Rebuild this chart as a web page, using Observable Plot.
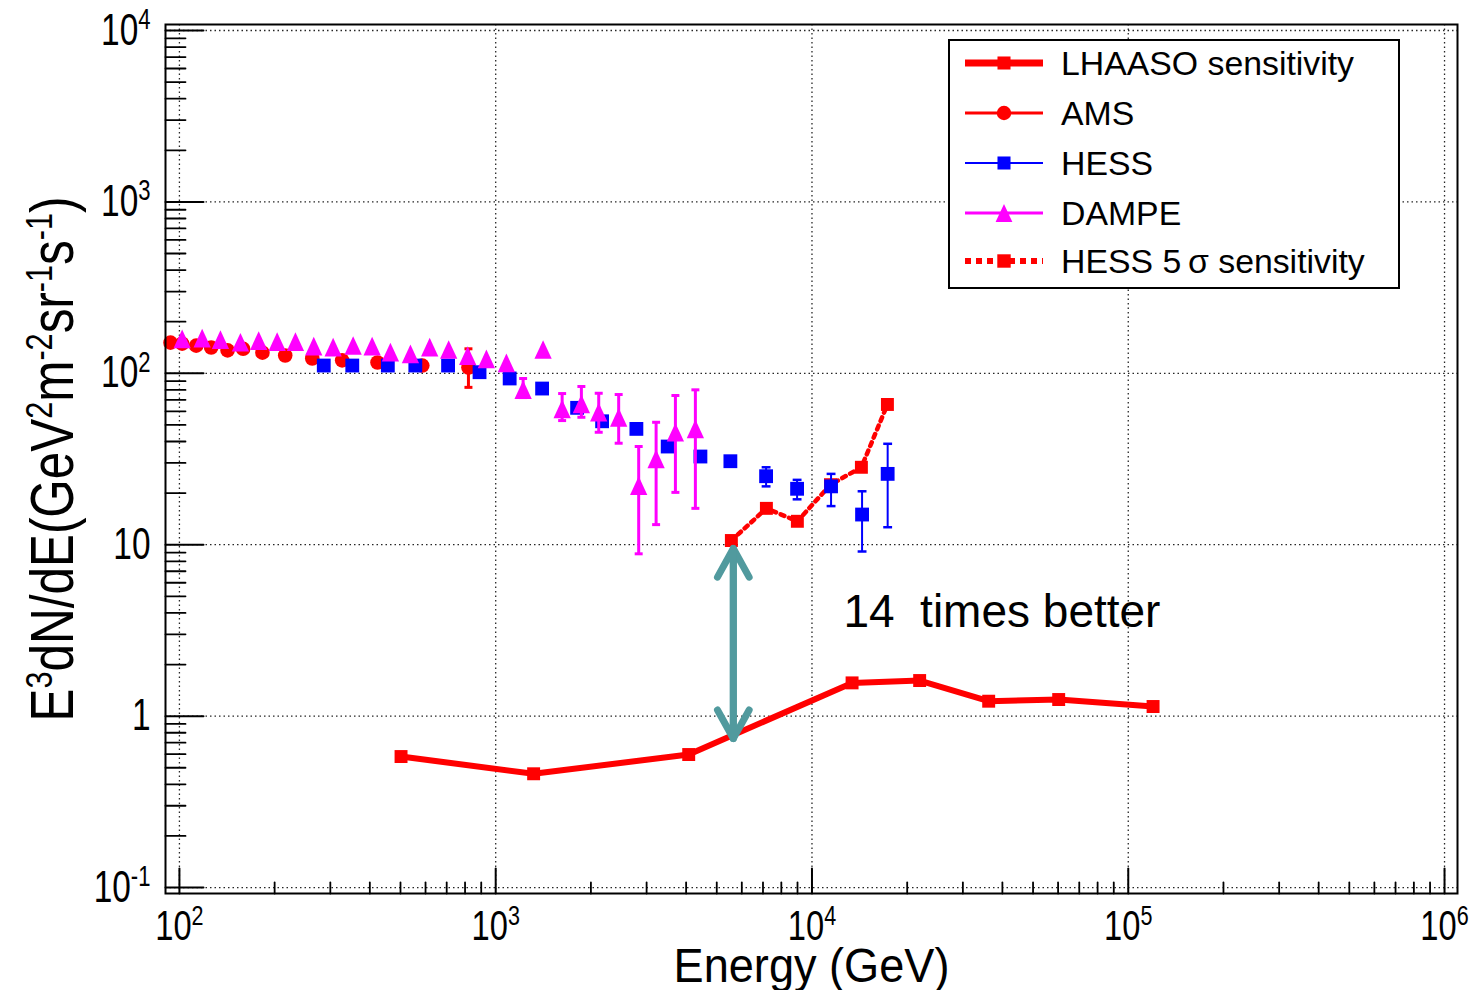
<!DOCTYPE html>
<html><head><meta charset="utf-8">
<script src="https://cdn.jsdelivr.net/npm/d3@7"></script>
<script src="https://cdn.jsdelivr.net/npm/@observablehq/plot@0.6"></script>
<style>
html,body{margin:0;padding:0;background:#fff;}
#chart svg{display:block;font-family:"Liberation Sans",Arial,sans-serif;}
#chart text{white-space:pre;}
</style></head><body><div id="chart"></div>
<script>
// ---- axes ----
const xMajor = [1e2, 1e3, 1e4, 1e5, 1e6];
const yMajor = [1e-1, 1, 10, 1e2, 1e3, 1e4];
const xDomain = [90.36, 1.099e6];
const yDomain = [0.0923, 10839];
const xTickLabels = ["10^{2}", "10^{3}", "10^{4}", "10^{5}", "10^{6}"];
const yTickLabels = ["10^{-1}", "1", "10", "10^{2}", "10^{3}", "10^{4}"];
const xTitle = "Energy (GeV)";
const yTitle = "E^{3}dN/dE(GeV^{2}m^{-2}sr^{-1}s^{-1})";

// ---- AMS ----
const amsE = [93.7, 102, 113, 126, 142, 159, 183, 216, 263, 327, 423, 586, 820];
const amsF = [151, 149, 145, 141.5, 136, 139, 132, 127, 122, 119, 115.6, 111, 108];
const amsErrE = [820];
const amsErrLo = [82.8];
const amsErrHi = [139];

// ---- HESS ----
const hessE = [286, 352, 456, 557, 707, 889, 1107, 1402, 1809, 2170, 2785, 3498, 4439, 5521, 7160, 8973, 11490, 14400, 17350];
const hessF = [111, 111, 111, 111, 111, 101.5, 93.3, 81.5, 62.9, 52.5, 47.4, 37.4, 32.7, 30.7, 25.1, 21.2, 21.9, 15.0, 25.9];
const hessErrE = [7160, 8973, 11490, 14400, 17350];
const hessErrLo = [21.9, 18.4, 16.8, 9.13, 12.65];
const hessErrHi = [28.3, 23.9, 25.9, 20.5, 38.8];

// ---- DAMPE ----
const dampeE = [102, 118, 134.8, 155.9, 178.1, 203.7, 232.7, 265.9, 306.2, 354.2, 406.7, 464.6, 537.5, 618.4, 710.1, 815.5, 934.5, 1081, 1221, 1412, 1622, 1866, 2117, 2448, 2832, 3215, 3700, 4279];
const dampeF = [158.9, 160.2, 157.4, 151.8, 155.3, 153.2, 153.2, 143.9, 142.0, 145.3, 143.9, 132.8, 130.0, 142.0, 137.7, 127.0, 121.5, 115.1, 80.4, 137.7, 62.1, 66.4, 59.3, 55.4, 22.1, 31.7, 45.3, 47.4];
const dampeErrE = [1221, 1622, 1866, 2117, 2448, 2832, 3215, 3700, 4279];
const dampeErrLo = [72.2, 53.0, 55.4, 45.3, 39.1, 8.85, 13.1, 20.2, 16.3];
const dampeErrHi = [93.3, 76.2, 83.8, 76.5, 75.2, 37.4, 51.8, 74.2, 80.1];

// ---- HESS 5 sigma sensitivity ----
const hess5E = [5561, 7176, 8991, 11440, 14330, 17320];
const hess5F = [10.58, 16.3, 13.7, 22.4, 28.3, 65.8];

// ---- LHAASO sensitivity ----
const lhaasoE = [502, 1318, 4076, 13390, 21900, 36200, 60260, 119800];
const lhaasoF = [0.581, 0.461, 0.597, 1.563, 1.613, 1.222, 1.250, 1.138];

// ---- annotation ----
const arrowE = [5640];
const arrowTop = [9.5];
const arrowBottom = [0.74];
const noteText = ["14  times better"];
const noteE = [12570];
const noteF = [4.02];

// ---- legend ----
const legendLabels = ["LHAASO sensitivity", "AMS", "HESS", "DAMPE", "HESS 5\u2009\u03c3 sensitivity"];

const zip = (xs, ys) => xs.map((x, i) => ({x, y: ys[i]}));
const zipErr = (xs, lo, hi) => xs.map((x, i) => ({x, lo: lo[i], hi: hi[i]}));

const ams = zip(amsE, amsF), hess = zip(hessE, hessF), dampe = zip(dampeE, dampeF);
const hess5 = zip(hess5E, hess5F), lhaaso = zip(lhaasoE, lhaasoF);
const amsErr = zipErr(amsErrE, amsErrLo, amsErrHi);
const hessErr = zipErr(hessErrE, hessErrLo, hessErrHi);
const dampeErr = zipErr(dampeErrE, dampeErrLo, dampeErrHi);
const arrowData = arrowE.map((x, i) => ({x, top: arrowTop[i], bottom: arrowBottom[i]}));
const noteData = noteText.map((t, i) => ({t, x: noteE[i], y: noteF[i]}));

// minor ticks
const minorTicks = ([lo, hi]) => {
  const out = [];
  for (let k = Math.floor(Math.log10(lo)); k <= Math.ceil(Math.log10(hi)); k++)
    for (let m = 2; m <= 9; m++) { const v = m * Math.pow(10, k); if (v >= lo && v <= hi) out.push(v); }
  return out;
};
const xMinor = minorTicks(xDomain), yMinor = minorTicks(yDomain);

const tickShape = {draw(ctx, l) { ctx.moveTo(0, 0); ctx.lineTo(0, -l); }};
const capSymbol = {draw(ctx, size) { const w = Math.sqrt(size) / 2; ctx.moveTo(-w, 0); ctx.lineTo(w, 0); }};
const triSymbol = {draw(ctx, size) { const r = Math.sqrt(size / Math.PI); const w = 1.2 * r, h = 1.3 * r; ctx.moveTo(0, -h); ctx.lineTo(w, h); ctx.lineTo(-w, h); ctx.closePath(); }};

const RED = "#ff0000", BLUE = "#0000ff", MAG = "#ff00ff", TEAL = "#519a9e";
const gridStyle = {stroke: "#000", strokeWidth: 1.3, strokeDasharray: "1.5,3", strokeOpacity: 0.85};

const xFmt = d => xTickLabels[xMajor.indexOf(d)];
const yFmt = d => yTickLabels[yMajor.indexOf(d)];

const chart = Plot.plot({
  width: 1476, height: 990,
  marginLeft: 165, marginRight: 19, marginTop: 24, marginBottom: 97,
  style: {fontFamily: '"Liberation Sans", Arial, sans-serif', background: "white", overflow: "visible", color: "black"},
  x: {type: "log", domain: xDomain, axis: null},
  y: {type: "log", domain: yDomain, axis: null},
  marks: [
    Plot.ruleX(xMajor, {x: d => d, ...gridStyle}),
    Plot.ruleY(yMajor, {y: d => d, ...gridStyle}),
    // ticks inside the frame
    Plot.vector(xMajor, {x: d => d, frameAnchor: "bottom", length: 25, rotate: 0, anchor: "start", shape: tickShape, stroke: "black", strokeWidth: 2}),
    Plot.vector(xMinor, {x: d => d, frameAnchor: "bottom", length: 11, rotate: 0, anchor: "start", shape: tickShape, stroke: "black", strokeWidth: 1.8}),
    Plot.vector(yMajor, {y: d => d, frameAnchor: "left", length: 38, rotate: 90, anchor: "start", shape: tickShape, stroke: "black", strokeWidth: 2}),
    Plot.vector(yMinor, {y: d => d, frameAnchor: "left", length: 20, rotate: 90, anchor: "start", shape: tickShape, stroke: "black", strokeWidth: 1.8}),
    Plot.axisX(xMajor, {anchor: "bottom", tickSize: 0, tickPadding: 16, tickFormat: xFmt, fontSize: 43, label: null}),
    Plot.axisY(yMajor, {anchor: "left", tickSize: 0, tickPadding: 15, tickFormat: yFmt, fontSize: 44, label: null}),
    // HESS 5 sigma sensitivity
    Plot.line(hess5, {x: "x", y: "y", stroke: RED, strokeWidth: 4.5, strokeDasharray: "4,5"}),
    Plot.dot(hess5, {x: "x", y: "y", symbol: "square", r: 7.3, fill: RED}),
    // LHAASO
    Plot.line(lhaaso, {x: "x", y: "y", stroke: RED, strokeWidth: 6}),
    Plot.dot(lhaaso, {x: "x", y: "y", symbol: "square", r: 7.3, fill: RED}),
    // AMS
    Plot.ruleX(amsErr, {x: "x", y1: "lo", y2: "hi", stroke: RED, strokeWidth: 3}),
    Plot.dot(amsErr, {x: "x", y: "lo", symbol: capSymbol, r: 4.5, stroke: RED, strokeWidth: 3, fill: "none"}),
    Plot.dot(amsErr, {x: "x", y: "hi", symbol: capSymbol, r: 4.5, stroke: RED, strokeWidth: 3, fill: "none"}),
    Plot.dot(ams, {x: "x", y: "y", r: 7.3, fill: RED}),
    // HESS
    Plot.ruleX(hessErr, {x: "x", y1: "lo", y2: "hi", stroke: BLUE, strokeWidth: 2}),
    Plot.dot(hessErr, {x: "x", y: "lo", symbol: capSymbol, r: 5, stroke: BLUE, strokeWidth: 2.5, fill: "none"}),
    Plot.dot(hessErr, {x: "x", y: "hi", symbol: capSymbol, r: 5, stroke: BLUE, strokeWidth: 2.5, fill: "none"}),
    Plot.dot(hess, {x: "x", y: "y", symbol: "square", r: 7.8, fill: BLUE}),
    // DAMPE
    Plot.ruleX(dampeErr, {x: "x", y1: "lo", y2: "hi", stroke: MAG, strokeWidth: 3}),
    Plot.dot(dampeErr, {x: "x", y: "lo", symbol: capSymbol, r: 4.5, stroke: MAG, strokeWidth: 3, fill: "none"}),
    Plot.dot(dampeErr, {x: "x", y: "hi", symbol: capSymbol, r: 4.5, stroke: MAG, strokeWidth: 3, fill: "none"}),
    Plot.dot(dampe, {x: "x", y: "y", symbol: triSymbol, r: 7.2, fill: MAG}),
    // double arrow
    Plot.arrow(arrowData, {x: "x", y1: "bottom", y2: "top", stroke: TEAL, strokeWidth: 7, headLength: 7, headAngle: 58, strokeLinecap: "round", strokeLinejoin: "round"}),
    Plot.arrow(arrowData, {x: "x", y1: "top", y2: "bottom", stroke: TEAL, strokeWidth: 7, headLength: 7, headAngle: 58, strokeLinecap: "round", strokeLinejoin: "round"}),
    Plot.text(noteData, {x: "x", y: "y", text: "t", fontSize: 46, textAnchor: "start", lineAnchor: "middle", fill: "black"}),
    // titles
    Plot.text([xTitle], {frameAnchor: "bottom", dy: 54, fontSize: 48, lineAnchor: "top", textAnchor: "middle", fill: "black"}),
    Plot.text([yTitle], {frameAnchor: "left", dx: -112, rotate: -90, fontSize: 61, lineAnchor: "middle", textAnchor: "middle", fill: "black"}),
    Plot.frame({stroke: "black", strokeWidth: 2})
  ]
});

document.getElementById("chart").appendChild(chart);
const svg = d3.select(chart.tagName.toLowerCase() === "svg" ? chart : chart.querySelector("svg"));

// superscripts
function supify(el, supRatio, shiftRatio) {
  const t = el.textContent;
  if (!t.includes("^{")) return;
  const fs = parseFloat(el.getAttribute("font-size") || el.parentNode.getAttribute("font-size") || getComputedStyle(el).fontSize);
  const supSize = fs * supRatio, shift = fs * shiftRatio;
  const parts = t.split(/\^\{([^}]*)\}/);
  el.textContent = "";
  let cur = 0;
  parts.forEach((p, i) => {
    if (p === "") return;
    const isSup = i % 2 === 1;
    const want = isSup ? -shift : 0;
    const ts = d3.select(el).append("tspan").text(p);
    if (want !== cur) ts.attr("dy", want - cur);
    if (isSup) ts.attr("font-size", supSize);
    cur = want;
  });
}
function squash(el, k) {
  const tr = el.getAttribute("transform");
  if (tr) el.setAttribute("transform", tr + ` scale(${k},1)`);
  else {
    const x = +el.getAttribute("x") || 0, y = +el.getAttribute("y") || 0;
    el.removeAttribute("x"); el.removeAttribute("y");
    el.setAttribute("transform", `translate(${x},${y}) scale(${k},1)`);
  }
}
const tickLabelSet = new Set([...xTickLabels, ...yTickLabels]);
svg.selectAll("text").each(function() {
  const t = this.textContent;
  if (t === yTitle) { supify(this, 0.62, 0.34); squash(this, 0.81); }
  else if (t === xTitle) { squash(this, 0.94); }
  else if (tickLabelSet.has(t)) { supify(this, 0.66, 0.36); squash(this, 0.76); }
});

// legend
const lg = svg.append("g").attr("class", "legend");
const L = {x: 949, y: 40, w: 450, h: 248, rows: [63, 113, 163, 213, 261], lx1: 965, lx2: 1043, mx: 1004, tx: 1061};
lg.append("rect").attr("x", L.x).attr("y", L.y).attr("width", L.w).attr("height", L.h)
  .attr("fill", "white").attr("stroke", "black").attr("stroke-width", 2);
const legendStyle = [
  {stroke: RED, sw: 7, dash: null, sym: d3.symbolSquare, size: 170, fill: RED},
  {stroke: RED, sw: 3, dash: null, sym: d3.symbolCircle, size: 165, fill: RED},
  {stroke: BLUE, sw: 2, dash: null, sym: d3.symbolSquare, size: 170, fill: BLUE},
  {stroke: MAG, sw: 3, dash: null, sym: triSymbol, size: Math.PI * 7 * 7, fill: MAG},
  {stroke: RED, sw: 6, dash: "6,5", sym: d3.symbolSquare, size: 180, fill: RED}
];
legendLabels.forEach((lab, i) => {
  const s = legendStyle[i], y = L.rows[i];
  const ln = lg.append("line").attr("x1", L.lx1).attr("x2", L.lx2).attr("y1", y).attr("y2", y)
    .attr("stroke", s.stroke).attr("stroke-width", s.sw);
  if (s.dash) ln.attr("stroke-dasharray", s.dash);
  lg.append("path").attr("d", d3.symbol(s.sym, s.size)()).attr("transform", `translate(${L.mx},${y})`).attr("fill", s.fill);
  lg.append("text").attr("x", L.tx).attr("y", y).attr("dy", "0.36em").attr("font-size", 33.8)
    .attr("text-anchor", "start").attr("fill", "black").text(lab);
});
</script></body></html>
